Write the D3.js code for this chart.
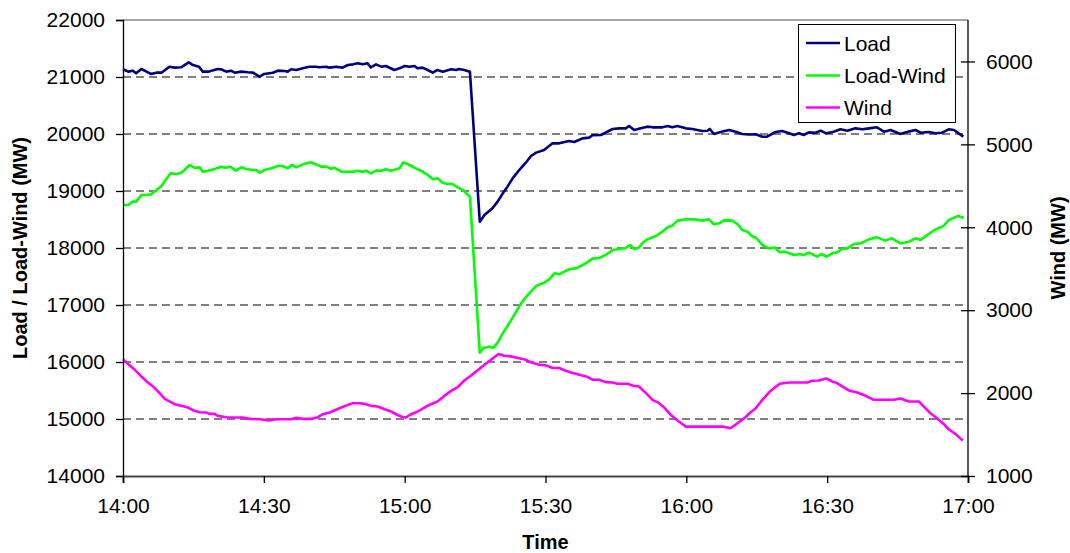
<!DOCTYPE html>
<html><head><meta charset="utf-8">
<script src="https://cdn.jsdelivr.net/npm/d3@7"></script>
<style>body{margin:0;background:#fff}svg{display:block}text{font-family:"Liberation Sans",Arial,sans-serif}</style>
</head><body><svg id="c" width="1070" height="553"></svg>
<script>
// minutes after 14:00
const loadTime = [0,1.1,2.1,2.8,3.9,5,6,7.1,8.2,9.9,11,12.4,14,14.9,16.2,17,18.1,20.2,20.9,22,23,23.8,25.2,26.6,27.7,29.1,30.1,31.9,33,34.4,35.1,35.8,36.9,38.3,39.7,41.1,41.8,43.3,44,45.4,46.8,47.9,49,50,51.1,52.1,52.8,53.9,55,56,57.8,58.9,60,61,62.1,62.8,63.8,64.9,66,67,68.1,69.9,71,71.6,72.7,73.9,76,77,78.7,79.8,80.9,81.9,83,84.4,85.8,86.9,88,89.7,91.5,92.9,95,96.1,97.9,99.3,100,101.8,102.8,104.3,105.7,107.1,107.8,108.9,110.3,111.7,112.8,114.9,116,117,118.1,119.9,121.3,123.4,124.5,125,125.9,127.3,129.1,130.5,131.9,133.3,134.8,136.2,137.2,139,140.4,141.9,142.9,144,145,146.1,147.5,148.6,149.8,151.4,152.8,154.3,156,157.5,158.9,160.6,162.1,163.5,165.6,167,168.8,169.9,171.6,173.1,174.5,175.9,177,179];
const loadMW = [21135,21094,21111,21064,21140,21094,21053,21076,21076,21181,21164,21170,21257,21210,21181,21094,21094,21140,21135,21094,21111,21076,21094,21082,21076,21006,21053,21076,21111,21105,21094,21135,21123,21152,21181,21181,21170,21181,21164,21181,21164,21211,21222,21240,21222,21240,21170,21222,21181,21193,21123,21152,21193,21181,21193,21152,21164,21123,21076,21123,21094,21135,21123,21140,21123,21094,18462,18579,18696,18813,18959,19076,19222,19368,19497,19614,19673,19719,19836,19836,19877,19860,19924,19936,19977,19982,20023,20088,20099,20099,20140,20070,20099,20129,20117,20117,20140,20117,20140,20099,20088,20053,20058,20088,20000,20035,20070,20041,20000,19990,19994,19953,19953,20035,20053,20012,19982,20012,19982,20029,20023,20058,20012,20041,20082,20058,20099,20082,20099,20117,20041,20070,20000,20035,20070,20023,20035,20012,20023,20082,20070,19953];

const netTime = [0,1.1,2.1,2.8,3.9,5,6,7.1,8.2,9.2,10.1,11.4,12.4,13.1,14.2,15.2,16.3,17,18.1,19.5,20.9,21.8,22.9,24,25.2,26.2,27.7,28.4,29.1,30.1,31.6,33,34,35.1,36,36.9,38.3,39.9,41.1,42.2,43.3,44.3,45,46.5,47.9,49,50,51.1,51.8,52.8,53.9,55,56,57.1,58.9,59.7,61,62.4,63.8,64.9,66,67,68.1,69.2,70.2,71.3,72.4,73.1,73.9,76,76.7,77.9,78.9,79.8,80.9,81.9,83,84.8,86.2,88,89.7,90.8,91.9,92.9,94,95.2,96.5,97.5,98.9,100,101.4,102.8,104.3,105.7,107.1,108,108.9,109.8,110.6,111.7,113.5,114.9,116,117,118.1,119.9,121.6,123.4,124.8,125.9,127,128,129.8,131.1,131.9,133,134.1,134.8,136.2,137.6,138.9,139.9,141,142.9,144,145,146.1,147.9,148.8,149.8,151.1,152.1,153.2,154.3,155.7,157.1,158.9,160.6,162.4,163.8,165.6,167.4,168.8,169.9,171.6,173.1,174.8,175.9,177,177.9,179.1];
const netMW = [18754,18754,18813,18813,18930,18930,18941,19017,19088,19205,19310,19298,19322,19368,19456,19409,19415,19339,19357,19386,19427,19409,19427,19357,19415,19386,19368,19368,19322,19368,19398,19439,19439,19398,19456,19415,19468,19503,19468,19427,19427,19390,19409,19339,19339,19339,19357,19339,19357,19310,19357,19357,19380,19357,19398,19503,19456,19398,19339,19281,19205,19222,19146,19123,19123,19064,19017,18959,18901,16164,16240,16269,16251,16339,16503,16631,16778,17029,17175,17333,17392,17450,17556,17538,17585,17632,17643,17684,17748,17813,17825,17877,17965,17982,18000,18053,17982,18000,18082,18152,18210,18287,18363,18392,18480,18503,18503,18480,18503,18415,18433,18485,18480,18404,18316,18287,18200,18181,18053,17994,18006,17924,17936,17877,17895,17877,17918,17848,17895,17848,17906,17924,17982,17994,18070,18082,18152,18187,18129,18170,18082,18111,18170,18140,18246,18327,18386,18491,18532,18561,18526];

const windTime = [0,1.1,2.5,3.9,5.3,6.4,7.8,8.9,9.9,11,12.4,13.8,15.2,16.3,17.7,18.4,19.5,20.2,22,23.8,25.5,27,29.1,31.2,32.6,34.8,35.8,36.9,38.3,40.1,41.5,42.6,44,45,46.5,47.9,49,50.4,51.4,52.8,54.3,55.7,57.1,58.2,59.2,60.2,61.4,62.8,64.2,65.6,67,68.5,69.9,71.3,72.7,74.1,75.5,77,78.4,80,81.2,82.6,84.1,85.8,86.9,88.7,90.1,91.5,92.9,94.3,95.8,97.2,99,100,101.4,102.8,104.3,105.3,107.5,108.5,109.9,111.4,112.8,114.2,115.3,116.7,118.4,119.9,122,124.1,127.7,129.4,130.9,132.6,133.7,134.8,136.2,137.6,138.7,139.9,141.9,144,145.8,146.8,148.2,149.8,151.1,152.1,153.2,154.6,156.4,158.2,159.9,161.7,164.2,165.6,167.4,169.5,170.9,172,173.4,174.8,175.9,177.3,178.9];
const windMW = [2410,2350,2281,2201,2128,2080,1999,1931,1899,1866,1846,1826,1786,1769,1765,1749,1749,1725,1709,1705,1705,1689,1685,1669,1685,1685,1685,1701,1689,1689,1709,1745,1765,1790,1826,1858,1878,1878,1870,1846,1838,1806,1778,1745,1717,1705,1745,1778,1826,1866,1899,1967,2027,2072,2152,2209,2273,2342,2402,2471,2451,2443,2423,2402,2370,2342,2334,2302,2302,2269,2241,2221,2193,2161,2161,2132,2128,2112,2112,2092,2080,1999,1919,1878,1826,1737,1657,1596,1596,1596,1596,1576,1637,1709,1770,1818,1919,2007,2060,2112,2128,2128,2128,2148,2152,2177,2140,2120,2080,2032,2007,1967,1919,1919,1919,1935,1899,1899,1818,1757,1697,1628,1564,1508,1427];

const timeTicks = [0,30,60,90,120,150,180];
const timeLabels = ["14:00","14:30","15:00","15:30","16:00","16:30","17:00"];
const leftTicks = [14000,15000,16000,17000,18000,19000,20000,21000,22000];
const rightTicks = [1000,2000,3000,4000,5000,6000];
const seriesNames = ["Load","Load-Wind","Wind"];
const seriesColors = ["#000080","#00ff00","#ff00ff"];

const svg = d3.select("#c");
const L = 123, R = 968, T = 20, B = 476;
const x = d3.scaleLinear().domain([0,180]).range([L,R]);
const yL = d3.scaleLinear().domain([14000,22000]).range([B,T]);
const yR = d3.scaleLinear().domain([1000,6500]).range([B,T]);
const FS = 21;

// gridlines
svg.append("g").selectAll("line").data(leftTicks.filter(v=>v>14000 && v<22000)).join("line")
  .attr("x1",L).attr("x2",R).attr("y1",d=>yL(d)).attr("y2",d=>yL(d))
  .attr("stroke","#000").attr("stroke-width",1).attr("stroke-dasharray","8,5");
// top border
svg.append("line").attr("x1",L).attr("x2",R).attr("y1",T).attr("y2",T).attr("stroke","#888").attr("stroke-width",1.5);

// series
const mk = (t,v,ys)=>t.map((m,i)=>[x(m),ys(v[i])]);
const lineGen = d3.line().curve(d3.curveLinear);
const data = [mk(loadTime,loadMW,yL), mk(netTime,netMW,yL), mk(windTime,windMW,yR)];
svg.append("g").selectAll("path").data(data).join("path")
  .attr("d",d=>lineGen(d)).attr("fill","none")
  .attr("stroke",(d,i)=>seriesColors[i]).attr("stroke-width",2.6)
  .attr("stroke-linejoin","round");

// left axis
const gl = svg.append("g").attr("transform",`translate(${L},0)`)
  .call(d3.axisLeft(yL).tickValues(leftTicks).tickFormat(d=>d).tickSizeOuter(0).tickSize(7).tickPadding(11));
// bottom axis
const gb = svg.append("g").attr("transform",`translate(0,${B})`)
  .call(d3.axisBottom(x).tickValues(timeTicks).tickFormat((d,i)=>timeLabels[i]).tickSizeOuter(0).tickSize(7).tickPadding(15));
// right axis
const gr = svg.append("g").attr("transform",`translate(${R},0)`)
  .call(d3.axisRight(yR).tickValues(rightTicks).tickFormat(d=>d).tickSizeOuter(0).tickSize(7).tickPadding(11));
gr.selectAll(".tick line").attr("x1",-7);
gr.select(".domain").attr("d",`M0,${T}V${B}`);
[gl,gb,gr].forEach(g=>{
  g.selectAll("text").attr("font-size",FS).attr("fill","#000").style("font-family","'Liberation Sans',Arial,sans-serif");
  g.selectAll("line,path").attr("stroke","#000").attr("stroke-width",1.3);
});
gb.select(".domain").attr("stroke","#444").attr("stroke-width",2);

// axis titles
svg.append("text").attr("transform",`translate(27,248) rotate(-90)`).attr("text-anchor","middle")
  .attr("font-size",20).attr("font-weight","bold").text("Load / Load-Wind (MW)");
svg.append("text").attr("transform",`translate(1065,248) rotate(-90)`).attr("text-anchor","middle")
  .attr("font-size",20).attr("font-weight","bold").text("Wind (MW)");
svg.append("text").attr("x",(L+R)/2).attr("y",549).attr("text-anchor","middle")
  .attr("font-size",20).attr("font-weight","bold").text("Time");

// legend
const lg = svg.append("g");
lg.append("rect").attr("x",798.5).attr("y",24.5).attr("width",157).attr("height",98)
  .attr("fill","#fff").attr("stroke","#000").attr("stroke-width",1);
const ly = [43,75.5,107.5];
seriesNames.forEach((n,i)=>{
  lg.append("line").attr("x1",806).attr("x2",840).attr("y1",ly[i]).attr("y2",ly[i])
    .attr("stroke",seriesColors[i]).attr("stroke-width",2.6);
  lg.append("text").attr("x",844).attr("y",ly[i]+7.5).attr("font-size",FS).text(n);
});
</script></body></html>
